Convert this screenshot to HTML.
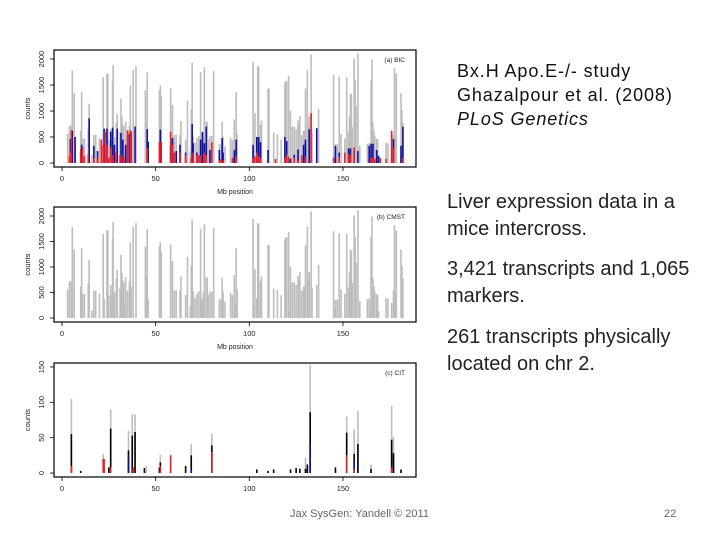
<!DOCTYPE html>
<html><head><meta charset="utf-8">
<style>
body{margin:0;background:#fff;width:720px;height:540px;overflow:hidden;font-family:"Liberation Sans",sans-serif;position:relative}
.t{position:absolute;color:#111}
</style></head><body>
<svg id="ch" width="440" height="500" style="position:absolute;left:0;top:0" font-family="Liberation Sans, sans-serif"></svg>
<div class="t" style="left:457px;top:59px;font-size:18px;line-height:24px;letter-spacing:0.9px">Bx.H Apo.E-/- study<br>Ghazalpour et al. (2008)<br><i>PLoS Genetics</i></div>
<div class="t" style="left:447px;top:189px;font-size:20px;line-height:27px;color:#222">Liver expression data in a<br>mice intercross.<div style="height:13px"></div>3,421 transcripts and 1,065<br>markers.<div style="height:14px"></div>261 transcripts physically<br>located on chr 2.</div>
<div class="t" style="left:290px;top:508px;font-size:11px;color:#666">Jax SysGen: Yandell © 2011</div>
<div class="t" style="left:664px;top:508px;font-size:11px;color:#666">22</div>
<script>
const grayPos=[3,4,5,5.5,6.5,10,10.5,11,12,14,14.5,16,17,18,20,22,22.5,24,24.5,25,26,26.5,27,27.3,28,29,29.5,31,31.5,32,32.5,33,33.5,34,35,36,36.5,37,38,39.5,44.5,45,45.5,46,52,52.5,53,58,59,60,61,63,63.5,66,67,68.5,69,69.5,70,71,72,73,74,74.5,75,75.5,76,77,77.5,78,79,80,81,84,85,85.5,86,87,90,91,92,92.5,93,93.5,102,102.5,103,104,104.5,105,106,106.5,110,110.5,113,115,117,119,119.5,120,121,121.5,122,123,124,125,126,126.5,127,128,129,129.5,130,131,131.5,132,133,133.5,136,137,145,145.5,146,147,148,149,151,152,153,153.5,154,154.5,155,156,156.5,157,158,159,163,164,164.5,165,165.5,166,166.5,167,168,168.5,169,173,174,176,177,177.5,178,178.5,181,181.5,182];
const grayVal=[560,720,720,1780,1340,620,1370,470,470,680,1140,150,540,540,480,1650,380,1720,1720,440,650,450,1570,1880,500,780,940,600,1240,890,740,700,240,800,530,720,1490,620,1790,1860,1400,800,1740,370,1400,1490,1300,1440,1120,540,540,540,810,450,1200,230,1030,1930,530,390,480,520,1750,360,380,500,1840,800,790,460,520,520,1770,360,370,790,510,320,490,450,840,310,1370,560,1940,250,960,390,1860,1850,730,810,1430,1430,580,550,450,1540,1580,1580,1680,130,1010,700,700,650,820,730,900,540,620,620,1430,1790,750,900,2090,590,650,1040,1700,180,360,360,1660,560,470,1650,600,900,1330,1330,690,2010,1590,1090,2110,330,370,380,160,1590,1990,780,620,530,470,450,130,390,380,300,540,1820,470,1720,1340,1020,780];
const bluePos=[4.5,5.5,7,10.5,14.5,17,19,22.5,24,26,27,28,29.5,31.5,32.5,34,36,39,45.5,46,52.5,58,59,61,63,66,69.5,70,72,73,74,75,76,77,79,84,85.5,86,92,93,102,104,105,106,110,119,120,122,124,126,129,130,132,136,146,148,153,154,156,158,164,165,166,168,169,177,181,182];
const blueVal=[460,620,500,350,860,330,230,660,660,600,680,350,660,580,450,350,560,700,650,410,640,350,480,230,350,200,750,380,200,150,450,600,380,700,250,250,480,200,250,450,350,500,500,400,250,500,420,80,160,260,350,450,650,670,330,200,280,280,250,230,330,370,370,250,140,460,330,700];
const redPos=[4,4.5,5,10,11,12,14,17,19,21,22,23,24,25,26,27,29,31,32,33,35,36.5,37,45.5,52,53,58,59,60,63,66,69,70,72,73,74,76,77,80,84,85,86,91,93,102,103,104,105,106,114,119,120,121,124,126,128,130,133,145,148,151,153,154,156,165,166,167,170,173,176,177,182];
const redVal=[130,200,630,270,300,130,170,100,100,450,350,600,350,100,300,150,200,150,150,100,630,630,600,280,400,400,600,350,200,200,150,100,200,150,150,150,200,150,400,50,80,50,100,130,100,130,200,130,100,80,100,160,120,100,60,150,120,960,100,120,200,180,150,300,100,100,80,100,80,620,300,100];
const citGrayPos=[5,22,26,35.5,37.5,39,45,52.5,58,69,80,130,132.5,152,156,158,165,176,177];
const citGrayVal=[105,27,90,60,83,83,10,26,26,41,55,22,153,80,62,88,12,95,51];
const citBlackPos=[5,10,25,26,35.5,37.5,39,44,52,52.5,66,69,80,104,110,113,122,125,127,130,131,132.5,146,152,156,158,165,176,177,181];
const citBlackVal=[55,3,8,63,32,53,58,7,8,15,10,25,39,5,3,5,5,7,6,6,12,86,8,57,27,41,6,47,28,5];
const citRedPos=[5,22,22.5,26,38,52.5,58,80,152,156,176];
const citRedVal=[10,20,20,8,8,10,25,30,25,5,8];
const citBluePos=[35.5,69,132.5,156];
const citBlueVal=[22,5,40,20];
const xTicks=[0,50,100,150];
const yTicksBig=[0,500,1000,1500,2000];
const yTicksCit=[0,50,100,150];

const svg=document.getElementById('ch');const NS='http://www.w3.org/2000/svg';
function mk(tag,at,txt){const e=document.createElementNS(NS,tag);for(const k in at)e.setAttribute(k,at[k]);if(txt!==undefined)e.textContent=txt;svg.appendChild(e);return e;}
const X=v=>62+v*1.873;
function panel(name,top,bot,y0,yTop,yMax,yTicks,label,xlab,series){
  const Y=v=>y0-(v/yMax)*(y0-yTop);
  series.forEach(s=>{s.pos.forEach((p,i)=>{
    const b=mk('rect',{x:X(p)-0.8,y:Y(s.val[i]),width:1.6,height:Math.max(0,y0-Y(s.val[i])),fill:s.color});
    
    
  });});
  const f=mk('rect',{x:54,y:top,width:362,height:bot-top,fill:'none',stroke:'#000','stroke-width':1.2});
  
  yTicks.forEach(t=>{const y=Y(t);mk('line',{x1:50,x2:54,y1:y,y2:y,stroke:'#000','stroke-width':0.8});
    const l=mk('text',{x:44,y:y,'font-size':7.5,'text-anchor':'middle',transform:`rotate(-90 44 ${y})`,fill:'#222'},t);
    });
  xTicks.forEach(t=>{const x=X(t);mk('line',{x1:x,x2:x,y1:bot,y2:bot+4,stroke:'#000','stroke-width':0.8});
    const l=mk('text',{x:x,y:bot+14,'font-size':7.5,'text-anchor':'middle',fill:'#222'},t);
    });
  const yl=mk('text',{x:30,y:(top+bot)/2,'font-size':7.5,'text-anchor':'middle',transform:`rotate(-90 30 ${(top+bot)/2})`,fill:'#222'},'counts');
  
  if(xlab){const xl=mk('text',{x:235,y:bot+27,'font-size':7,'text-anchor':'middle',fill:'#222'},'Mb position');
    }
  const pl=mk('text',{x:405,y:top+12,'font-size':6.5,'text-anchor':'end',fill:'#222'},label);
  
}
panel('bic',50,167,163,59,2000,yTicksBig,'(a) BIC',true,[
 {key:'gray',pos:grayPos,val:grayVal,color:'#bdbdbd'},
 {key:'blue',pos:bluePos,val:blueVal,color:'#1010a0'},
 {key:'red',pos:redPos,val:redVal,color:'#e8202a'}]);
panel('cmst',207,322,318,216,2000,yTicksBig,'(b) CMST',true,[
 {key:'gray',pos:grayPos,val:grayVal,color:'#bdbdbd'}]);
panel('cit',363,477,473,367,150,yTicksCit,'(c) CIT',false,[
 {key:'gray',pos:citGrayPos,val:citGrayVal,color:'#bdbdbd'},
 {key:'black',pos:citBlackPos,val:citBlackVal,color:'#000'},
 {key:'blue',pos:citBluePos,val:citBlueVal,color:'#1010a0'},
 {key:'red',pos:citRedPos,val:citRedVal,color:'#e8202a'}]);
</script>
</body></html>
